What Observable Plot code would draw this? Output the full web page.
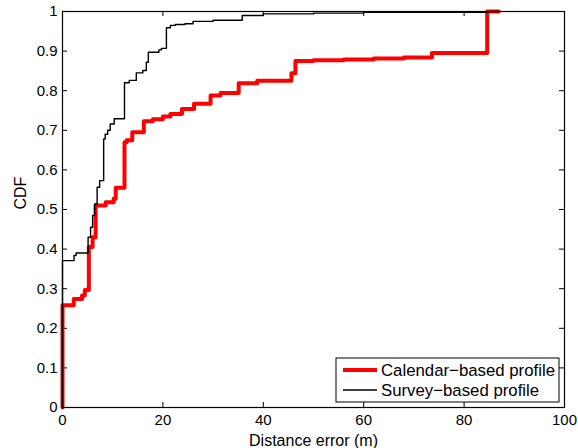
<!DOCTYPE html>
<html>
<head>
<meta charset="utf-8">
<script src="https://cdn.jsdelivr.net/npm/d3@7"></script>
<script src="https://cdn.jsdelivr.net/npm/@observablehq/plot@0.6"></script>
<style>
  html, body { margin: 0; padding: 0; background: white; }
</style>
</head>
<body>
<div id="chart"></div>
<script>
// Data
const xTicks = [0, 20, 40, 60, 80, 100];
const yTicks = [0, 0.1, 0.2, 0.3, 0.4, 0.5, 0.6, 0.7, 0.8, 0.9, 1];
const yTickLabels = ["0", "0.1", "0.2", "0.3", "0.4", "0.5", "0.6", "0.7", "0.8", "0.9", "1"];
const seriesNames = ["Calendar\u2212based profile", "Survey\u2212based profile"];
const seriesColors = ["#ff0000", "#000000"];

// Calendar-based profile (step-after: value from x onward)
const calendarX = [0, 0, 2.25, 3.9, 4.45, 5.25, 6.0, 6.6, 8.6, 10.2, 10.6, 12.35, 12.8, 13.9, 16.2, 18, 20, 21.5, 23.8, 26.2, 29.5, 31.5, 35.1, 38.8, 45.6, 46.4, 50, 56, 62, 68, 73.6, 84.6, 86.9];
const calendarY = [0, 0.258, 0.274, 0.283, 0.297, 0.405, 0.43, 0.51, 0.518, 0.527, 0.555, 0.67, 0.675, 0.695, 0.723, 0.728, 0.735, 0.741, 0.754, 0.767, 0.788, 0.794, 0.819, 0.825, 0.844, 0.875, 0.877, 0.879, 0.881, 0.884, 0.895, 1.0, 1.0];

// Survey-based profile
const surveyX = [0, 0, 2.3, 2.7, 5.1, 5.6, 6.0, 6.4, 6.9, 7.4, 8.2, 8.5, 9.0, 9.5, 10.3, 12.35, 13.3, 14.7, 16.0, 16.7, 17.1, 19.2, 19.7, 20.7, 21.5, 22.5, 24.4, 26, 30, 35.8, 40, 50, 60, 85, 87];
const surveyY = [0, 0.371, 0.384, 0.39, 0.43, 0.455, 0.485, 0.514, 0.556, 0.573, 0.678, 0.69, 0.70, 0.716, 0.729, 0.82, 0.826, 0.845, 0.851, 0.872, 0.897, 0.903, 0.907, 0.959, 0.965, 0.967, 0.969, 0.975, 0.978, 0.99, 0.994, 0.996, 0.998, 1.0, 1.0];

const calendar = calendarX.map((x, i) => ({x, y: calendarY[i]}));
const survey = surveyX.map((x, i) => ({x, y: surveyY[i]}));

const W = 578, H = 448;
const mL = 62, mR = 14, mT = 11, mB = 41;
const plotW = W - mL - mR, plotH = H - mT - mB;
const tickLen = 5;
const font = "'Liberation Sans', Arial, Helvetica, sans-serif";

const chart = Plot.plot({
  width: W, height: H,
  marginLeft: mL, marginRight: mR, marginTop: mT, marginBottom: mB,
  x: {domain: [0, 100]},
  y: {domain: [0, 1]},
  style: {fontFamily: font, fontSize: "15px", background: "white", color: "black"},
  marks: [
    Plot.axisX(xTicks, {tickSize: 0, tickPadding: 7, label: null, tickFormat: d => String(d), fontSize: 15}),
    Plot.axisY(yTicks, {tickSize: 0, tickPadding: 5, label: null, tickFormat: d => yTickLabels[yTicks.indexOf(d)], fontSize: 15}),
    Plot.ruleX(xTicks, {insetTop: plotH - tickLen, stroke: "black"}),
    Plot.ruleX(xTicks, {insetBottom: plotH - tickLen, stroke: "black"}),
    Plot.ruleY(yTicks, {insetRight: plotW - tickLen, stroke: "black"}),
    Plot.ruleY(yTicks, {insetLeft: plotW - tickLen, stroke: "black"}),
    Plot.line(calendar, {x: "x", y: "y", curve: "step-after", stroke: seriesColors[0], strokeWidth: 4}),
    Plot.line(survey, {x: "x", y: "y", curve: "step-after", stroke: seriesColors[1], strokeWidth: 1.4}),
    Plot.frame({stroke: "black", strokeWidth: 1.2}),
    Plot.text(["Distance error (m)"], {frameAnchor: "bottom", lineAnchor: "bottom", dy: 38, fontSize: 16, fill: "black"}),
    Plot.text(["CDF"], {frameAnchor: "left", dx: -42, rotate: -90, fontSize: 16, fill: "black"})
  ]
});

document.getElementById("chart").appendChild(chart);

// Legend inside the axes, bottom-right
const svg = d3.select(chart);
const frameRight = W - mR, frameBottom = H - mB;
const boxW = 223, boxH = 44;
const bx = frameRight - 5 - boxW, by = frameBottom - 5 - boxH;
const g = svg.append("g").attr("font-family", font).attr("font-size", 16.8).attr("text-anchor", "start");
g.append("rect").attr("x", bx).attr("y", by).attr("width", boxW).attr("height", boxH)
  .attr("fill", "white").attr("stroke", "black").attr("stroke-width", 1);
seriesNames.forEach((name, i) => {
  const yy = by + 12 + i * 20;
  g.append("line").attr("x1", bx + 7).attr("x2", bx + 41).attr("y1", yy).attr("y2", yy)
    .attr("stroke", seriesColors[i]).attr("stroke-width", i === 0 ? 4 : 1.4);
  g.append("text").attr("x", bx + 45).attr("y", yy).attr("dy", "0.35em")
    .attr("text-anchor", "start").attr("fill", "black").text(name);
});
</script>
</body>
</html>
